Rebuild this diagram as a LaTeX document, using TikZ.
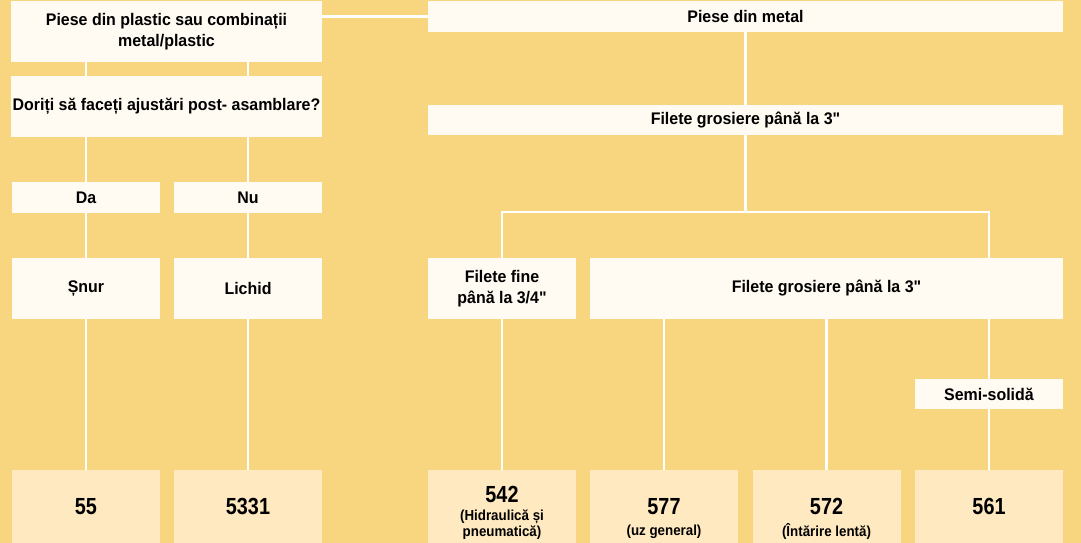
\documentclass[tikz,border=0pt]{standalone}
\usepackage{fontspec}
\setmainfont{Liberation Sans}
\newfontfamily\condfont[FakeStretch=0.95]{Liberation Sans}
\newfontfamily\narrowfont[FakeStretch=0.92]{Liberation Sans}
\newfontfamily\digitfont[FakeStretch=0.85]{Liberation Sans}
\definecolor{paper}{RGB}{248,214,128}
\definecolor{card}{RGB}{255,250,242}
\definecolor{leaf}{RGB}{254,233,192}
\newcommand\lbltext{\condfont\bfseries\fontsize{16.8}{21.5}\selectfont}
\newcommand\numtext{\digitfont\bfseries\fontsize{23.3}{26}\selectfont}
\newcommand\subtext{\narrowfont\bfseries\fontsize{14.5}{15.5}\selectfont}
\begin{document}
\begin{tikzpicture}[x=1pt,y=-1pt,
  box/.style={fill=card, inner sep=0pt, outer sep=0pt, align=center, font=\lbltext},
  leafbox/.style={fill=leaf, inner sep=0pt, outer sep=0pt, minimum width=148pt, minimum height=73pt},
  wire/.style={draw=white, line width=2.5pt},
  num/.style={font=\numtext, inner sep=0pt},
  sub/.style={font=\subtext, align=center, inner sep=0pt}]
\fill[paper] (0,0) rectangle (1081,543);
\useasboundingbox (0,0) rectangle (1081,543);

% left branch: plastic parts
\node[box, minimum width=311pt, minimum height=61pt] (A) at (166.5,31.5) {Piese din plastic sau combinații\\metal/plastic};
\node[box, minimum width=311pt, minimum height=61pt] (B) at (166.5,106.5) {Doriți să faceți ajustări post- asamblare?};
\node[box, minimum width=148pt, minimum height=31pt] (Da) at (86,197.5) {Da};
\node[box, minimum width=148pt, minimum height=31pt] (Nu) at (248,197.5) {Nu};
\node[box, minimum width=148pt, minimum height=61pt] (Snur) at (86,288.5) {Șnur};
\node[box, minimum width=148pt, minimum height=61pt] (Lichid) at (248,288.5) {Lichid};
\node[leafbox] (n55) at (86,506.5) {};
\node[leafbox] (n5331) at (248,506.5) {};

% right branch: metal parts
\node[box, minimum width=635pt, minimum height=31pt] (M) at (745.5,16.5) {Piese din metal};
\node[box, minimum width=635pt, minimum height=30pt] (F) at (745.5,120) {Filete grosiere până la 3"};
\node[box, minimum width=148pt, minimum height=61pt] (FF) at (502,288.5) {Filete fine\\până la 3/4"};
\node[box, minimum width=473pt, minimum height=61pt] (FG) at (826.5,288.5) {Filete grosiere până la 3"};
\node[box, minimum width=148pt, minimum height=30pt] (SS) at (989,394) {Semi-solidă};
\node[leafbox] (n542) at (502,506.5) {};
\node[leafbox] (n577) at (664,506.5) {};
\node[leafbox] (n572) at (826.5,506.5) {};
\node[leafbox] (n561) at (989,506.5) {};

% product numbers
\node[num] (t55) at (86,506.5) {55};
\node[num] (t5331) at (248,506.5) {5331};
\node[num] (t542) at (502,494) {542};
\node[sub] (s542) at (502,524.5) {(Hidraulică și\\pneumatică)};
\node[num] (t577) at (664,506.5) {577};
\node[sub] (s577) at (664,532) {(uz general)};
\node[num] (t572) at (826.5,506.5) {572};
\node[sub] (s572) at (826.5,532) {(Întărire lentă)};
\node[num] (t561) at (989,506.5) {561};

% connectors
\coordinate (bus) at (989,212);
\draw[wire] (A.east |- M.west) -- (M.west);
\draw[wire] (A.south -| Da.north) -- (B.north -| Da.north);
\draw[wire] (A.south -| Nu.north) -- (B.north -| Nu.north);
\draw[wire] (B.south -| Da.north) -- (Da.north);
\draw[wire] (B.south -| Nu.north) -- (Nu.north);
\draw[wire] (Da.south) -- (Snur.north);
\draw[wire] (Nu.south) -- (Lichid.north);
\draw[wire] (Snur.south) -- (n55.north);
\draw[wire] (Lichid.south) -- (n5331.north);
\draw[wire] (M.south) -- (F.north);
\draw[wire] (F.south) -- (F.south |- bus);
\draw[wire] (FF.north) |- (bus) -- (bus |- FG.north);
\draw[wire] (FF.south) -- (n542.north);
\draw[wire] (FG.south -| n577.north) -- (n577.north);
\draw[wire] (FG.south) -- (n572.north);
\draw[wire] (FG.south -| SS.north) -- (SS.north);
\draw[wire] (SS.south) -- (n561.north);
\end{tikzpicture}
\end{document}
